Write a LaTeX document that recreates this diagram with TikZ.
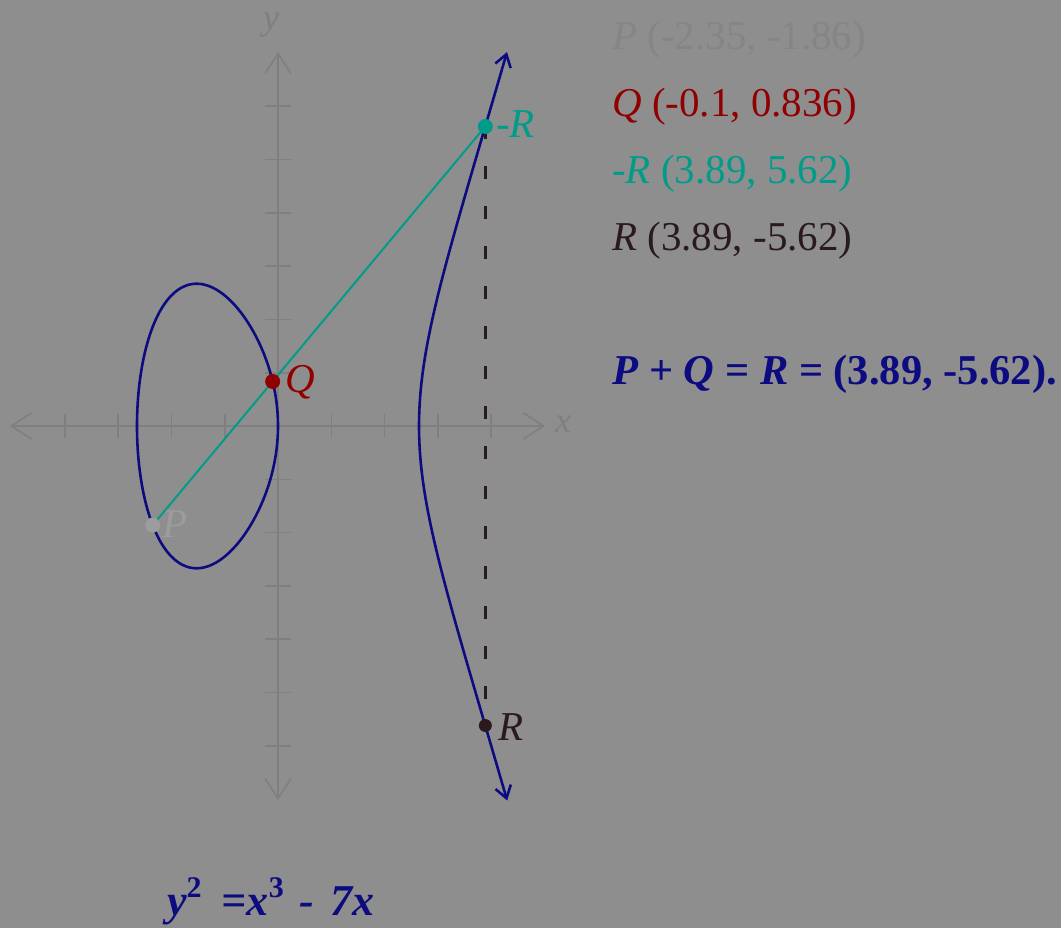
\documentclass[tikz,border=0pt]{standalone}
\usepackage{fontspec}
\usepackage{graphicx}
\setmainfont{Liberation Serif}
\usetikzlibrary{arrows.meta}
\definecolor{bg}{HTML}{8E8E8E}
\definecolor{axisgray}{HTML}{7F7F7F}
\definecolor{curveblue}{HTML}{0C0C80}
\definecolor{tealc}{HTML}{009C8A}
\definecolor{qred}{HTML}{900000}
\definecolor{pgray}{HTML}{9C9C9C}
\definecolor{plegend}{HTML}{858585}
\definecolor{rdark}{HTML}{2A1A1E}
\tikzset{
  axisline/.style={draw=axisgray, line width=1.6pt},
  axistip/.style={{Straight Barb[length=20pt,width=26pt,line width=1.6pt]}-{Straight Barb[length=20pt,width=26pt,line width=1.6pt]}},
  curveline/.style={draw=curveblue, line width=2.6pt},
  curvetip/.style={{Straight Barb[length=12pt,width=16pt]}-{Straight Barb[length=12pt,width=16pt]}},
  secant/.style={draw=tealc, line width=2pt},
  dashline/.style={draw=rdark, line width=2.6pt, dash pattern=on 13pt off 27pt},
  ptdot/.style={circle, inner sep=0pt, minimum size=15pt},
  txt/.style={inner sep=0pt, anchor=base west, font=\fontsize{41}{48}\selectfont},
  axlab/.style={inner sep=0pt, anchor=base west, text=axisgray, font=\fontsize{36}{42}\selectfont\itshape},
}
\newcommand{\supr}[1]{\raisebox{18pt}{\fontsize{30}{32}\selectfont\upshape #1}}
\begin{document}
\begin{tikzpicture}[x=1pt,y=-1pt]
\useasboundingbox (0,0) rectangle (1061,928);
\fill[bg] (0,0) rectangle (1061,928);
% axes
\coordinate (xl) at (10,426);
\coordinate (xr) at (545,426);
\coordinate (yt) at (278,52);
\coordinate (yb) at (278,800);
\draw[axisline, axistip] (xl) -- (xr);
\draw[axisline, axistip] (yb) -- (yt);
\foreach \k in {-4,-3,-2,-1,1,2,3,4}
  \draw[axisline] ({278+53.3*(\k)},414) -- ({278+53.3*(\k)},438);
\foreach \k in {-6,-5,-4,-3,-2,-1,1,2,3,4,5,6}
  \draw[axisline] (265,{426-53.3*(\k)}) -- (291,{426-53.3*(\k)});
\node[axlab] (ylab) at (263,30) {y};
\node[axlab] (xlab) at (555,432) {x};
% math coordinates
\begin{scope}[xshift=278pt, yshift=-426pt, x=53.3pt, y=53.3pt]
  \coordinate (P) at (-2.35,-1.86);
  \coordinate (Q) at (-0.1,0.836);
  \coordinate (mR) at (3.89,5.62);
  \coordinate (R) at (3.89,-5.62);
  \draw[dashline] (mR) -- (R);
  \draw[curveline] plot[domain=0:180, samples=140, smooth, variable=\t]
    ({-sqrt(7)*sin(\t)*sin(\t)}, {sqrt(7*sqrt(7)*(1+sin(\t)*sin(\t)))*sin(\t)*cos(\t)}) -- cycle;
  \draw[curveline, curvetip] plot[domain=-1.286:1.286, samples=90, smooth, variable=\u]
    ({sqrt(7)+(\u)*(\u)}, {(\u)*sqrt((sqrt(7)+(\u)*(\u))*(2*sqrt(7)+(\u)*(\u)))});
  \draw[secant] (P) -- (mR);
  \node[ptdot, fill=pgray] (Pdot) at (P) {};
  \node[ptdot, fill=qred] (Qdot) at (Q) {};
  \node[ptdot, fill=tealc] (mRdot) at (mR) {};
  \node[ptdot, fill=rdark, minimum size=13pt] (Rdot) at (R) {};
\end{scope}
% point labels
\node[txt, text=pgray] (Plab) at (162,537) {\textit{P}};
\node[txt, text=qred] (Qlab) at (285,392) {\textit{Q}};
\node[txt, text=tealc] (mRlab) at (496,138) {-\textit{R}};
\node[txt, text=rdark] (Rlab) at (498,740) {\textit{R}};
% legend
\node[txt, text=plegend] (L1) at (612,50) {\textit{P} (-2.35, -1.86)};
\node[txt, text=qred] (L2) at (612,117) {\textit{Q} (-0.1, 0.836)};
\node[txt, text=tealc] (L3) at (612,184) {-\textit{R} (3.89, 5.62)};
\node[txt, text=rdark] (L4) at (612,251) {\textit{R} (3.89, -5.62)};
\node[txt, text=curveblue, font=\fontsize{42.5}{48}\selectfont\bfseries] (L5) at (612,384)
  {\textit{P} + \textit{Q} = \textit{R} = (3.89, -5.62).};
% equation
\node[txt, text=curveblue, font=\fontsize{44}{50}\selectfont\bfseries\itshape] (eq) at (167,915)
  {y\supr{2}\hspace{20pt}=x\supr{3}\hspace{16pt}-\hspace{16pt}7x};
\end{tikzpicture}
\end{document}
